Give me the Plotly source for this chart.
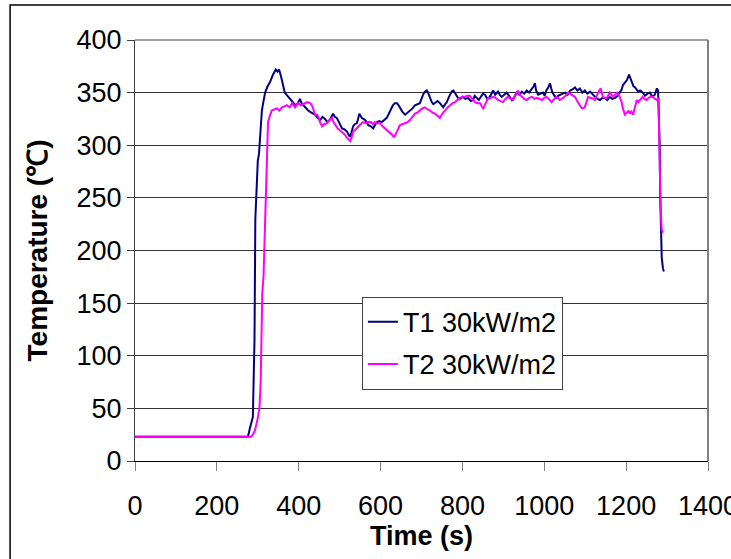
import plotly.graph_objects as go

# Thermocouple T1 under 30 kW/m2 exposure: time (s) and temperature (°C)
t1_time = [0, 276, 280, 285, 288, 290, 292, 294, 297, 300, 303, 306, 310, 314, 318, 324, 330, 337, 344, 348,
           352, 357, 361, 366, 370, 374, 380, 386, 392, 398, 403, 407, 411, 417, 423, 431, 440, 446, 452, 458,
           464, 470, 476, 484, 488, 493, 500, 506, 512, 518, 522, 525, 529, 533, 537, 542, 545, 548, 551, 554,
           558, 562, 566, 570, 576, 582, 586, 591, 597, 603, 609, 615, 619, 623, 627, 630, 635, 640, 644, 647,
           653, 660, 666, 672, 678, 684, 690, 696, 700, 705, 709, 713, 716, 720, 725, 729, 733, 739, 745, 749,
           753, 758, 762, 767, 771, 774, 778, 782, 786, 789, 795, 801, 807, 814, 820, 826, 830, 835, 840, 845,
           850, 855, 861, 867, 871, 875, 880, 887, 891, 896, 902, 908, 914, 921, 927, 933, 939, 945, 951, 957,
           963, 970, 974, 977, 980, 985, 991, 997, 1001, 1005, 1010, 1014, 1017, 1020, 1025, 1030, 1034, 1038,
           1045, 1051, 1057, 1063, 1069, 1075, 1081, 1087, 1093, 1099, 1105, 1112, 1118, 1124, 1130, 1136,
           1142, 1148, 1154, 1160, 1166, 1173, 1179, 1185, 1189, 1192, 1197, 1202, 1207, 1211, 1214, 1218,
           1222, 1226, 1229, 1234, 1241, 1246, 1252, 1258, 1264, 1270, 1275, 1278, 1280, 1282, 1283, 1285,
           1287, 1290, 1292]
t1_temp = [23, 23, 30, 39, 42, 80, 115, 230, 262, 285, 292, 310, 333, 342, 350, 356, 360, 367, 372, 370,
           372, 365, 359, 350, 348, 346, 343, 341, 338, 340, 344, 340, 338, 336, 333, 331, 329, 326, 324, 327,
           325, 322, 324, 330, 327, 326, 320, 316, 315, 313, 310, 308, 312, 318, 320, 321, 325, 330, 328, 326,
           325, 324, 322, 319, 318, 316, 319, 322, 323, 322, 324, 326, 329, 332, 336, 338, 340, 340, 338, 336,
           332, 329, 331, 333, 335, 338, 339, 340, 344, 349, 351, 352, 350, 345, 341, 339, 340, 342, 340, 338,
           336, 339, 341, 346, 349, 351, 352, 350, 347, 345, 344, 346, 344, 345, 342, 343, 347, 345, 343, 346,
           349, 348, 344, 346, 349, 352, 348, 351, 348, 346, 348, 350, 347, 343, 346, 350, 348, 351, 349, 352,
           350, 354, 356, 359, 352, 348, 349, 350, 347, 352, 355, 359, 354, 350, 347, 345, 347, 348,
           349, 350, 348, 352, 353, 355, 352, 354, 350, 352, 349, 351, 348, 346, 344, 343,
           345, 345, 343, 346, 344, 345, 347, 350, 353, 357, 359, 362, 367, 363, 359, 356,
           355, 353, 351, 352, 350, 347, 349, 350, 346, 348, 354, 352, 330, 300, 255, 220,
           193, 183, 180]

# Thermocouple T2 under 30 kW/m2 exposure
t2_time = [0, 284, 288, 293, 298, 304, 307, 309, 311, 314, 317, 320, 323, 325, 328, 334, 340, 347, 353, 359,
           365, 371, 378, 384, 391, 398, 405, 411, 415, 421, 428, 432, 435, 440, 445, 449, 452, 457, 462, 469,
           475, 481, 485, 489, 495, 501, 507, 513, 518, 523, 526, 529, 533, 539, 545, 551, 557, 563, 570, 576,
           581, 586, 592, 599, 605, 611, 617, 623, 628, 632, 635, 640, 647, 653, 660, 666, 672, 678, 684, 690,
           696, 702, 709, 715, 721, 727, 733, 739, 745, 751, 757, 764, 770, 776, 782, 788, 794, 800, 806, 812,
           818, 824, 831, 837, 843, 847, 851, 857, 863, 869, 875, 881, 887, 893, 899, 905, 911, 918, 924, 930,
           936, 940, 945, 951, 957, 963, 970, 976, 982, 988, 994, 1000, 1005, 1011, 1018, 1024, 1030, 1034,
           1038, 1046, 1052, 1058, 1063, 1067, 1071, 1075, 1079, 1083, 1088, 1092, 1099, 1103, 1107, 1112,
           1116, 1120, 1124, 1128, 1131, 1134, 1138, 1141, 1143, 1148, 1153, 1157, 1160, 1164, 1168, 1173,
           1178, 1182, 1185, 1189, 1192, 1197, 1202, 1206, 1209, 1213, 1217, 1221, 1226, 1230, 1234, 1240,
           1245, 1250, 1255, 1260, 1266, 1270, 1275, 1279, 1281, 1283, 1285, 1287, 1290]
t2_temp = [23, 23, 25, 29, 37, 50, 74, 108, 160, 175, 210, 255, 295, 322, 326, 333, 334, 335, 333, 336,
           337, 338, 336, 340, 336, 340, 338, 339, 340, 341, 340, 338, 335, 329, 329, 326, 322, 318, 320, 321,
           324, 326, 322, 319, 316, 314, 312, 310, 307, 305, 304, 307, 313, 315, 318, 320, 322, 321, 322, 322,
           320, 322, 321, 321, 318, 316, 314, 312, 310, 308, 309, 313, 319, 320, 321, 322, 324, 327, 330, 331,
           333, 335, 336, 334, 333, 331, 330, 328, 326, 330, 333, 336, 338, 340, 341, 343, 345, 346, 346, 347,
           347, 344, 341, 340, 340, 337, 335, 340, 345, 345, 346, 345, 343, 342, 341, 344, 346, 344, 343, 348,
           352, 348, 346, 344, 343, 345, 346, 344, 345, 344, 343, 345, 346, 344, 341, 344, 346, 345,
           343, 345, 347, 350, 349, 348, 347, 346, 343, 340, 337, 335, 336, 341, 346, 345,
           345, 344, 343, 347, 350, 352, 354, 350, 346, 345, 345, 348, 350, 348, 346, 348,
           350, 348, 345, 341, 335, 329, 331, 333, 330, 332, 329, 335, 343, 341, 343, 346,
           344, 343, 345, 346, 346, 344, 343, 345, 300, 255, 232, 220, 217]

series_names = ["T1 30kW/m2", "T2 30kW/m2"]
series_colors = ["#000080", "#FF00FF"]

x_ticks = [0, 200, 400, 600, 800, 1000, 1200, 1400]
y_ticks = [0, 50, 100, 150, 200, 250, 300, 350, 400]

FONT = "Liberation Sans, Arial, sans-serif"

fig = go.Figure()
for name, color, xs, ys in [
    (series_names[0], series_colors[0], t1_time, t1_temp),
    (series_names[1], series_colors[1], t2_time, t2_temp),
]:
    fig.add_trace(go.Scatter(
        x=xs, y=ys, mode="lines", name=name, legendgroup=name,
        line=dict(color=color, width=2),
    ))

fig.update_layout(
    width=731, height=559,
    margin=dict(l=135, r=23, t=40, b=98, autoexpand=False),
    paper_bgcolor="white", plot_bgcolor="white",
    font=dict(family=FONT, size=27, color="black"),
    showlegend=True,
    legend=dict(
        x=0.396, y=0.39, xanchor="left", yanchor="top",
        bgcolor="white", bordercolor="#404040", borderwidth=1,
        font=dict(family=FONT, size=27, color="black"),
        tracegroupgap=4,
    ),
    xaxis=dict(
        range=[0, 1400], tickvals=x_ticks, ticktext=[str(v) for v in x_ticks],
        showgrid=False, zeroline=False, automargin=False,
        ticks="outside", ticklen=9, tickcolor="#808080", tickwidth=1,
        ticklabelstandoff=12, ticklabeloverflow="allow",
        showline=True, linecolor="black", linewidth=1,
        title=dict(text="<b>Time (s)</b>", standoff=2,
                   font=dict(family=FONT, size=27, color="black")),
        tickfont=dict(family=FONT, size=27, color="black"),
    ),
    yaxis=dict(
        range=[0, 400], tickvals=y_ticks, ticktext=[str(v) for v in y_ticks],
        showgrid=True, gridcolor="#333333", gridwidth=1,
        zeroline=False, automargin=False,
        ticks="outside", ticklen=7, tickcolor="#404040", tickwidth=1,
        showline=True, linecolor="#404040", linewidth=1,
        title=dict(text="<b>Temperature (℃)</b>", standoff=20,
                   font=dict(family=FONT, size=28, color="black")),
        tickfont=dict(family=FONT, size=27, color="black"),
    ),
    shapes=[
        # plot-area frame (top and right edges in grey)
        dict(type="line", xref="paper", yref="paper", x0=0, x1=1, y0=1, y1=1,
             line=dict(color="#808080", width=1.5)),
        dict(type="line", xref="paper", yref="paper", x0=1, x1=1, y0=0, y1=1,
             line=dict(color="#808080", width=2)),
        # outer chart border
        dict(type="rect", xref="paper", yref="paper",
             x0=-0.218, x1=1.09, y0=-0.27, y1=1.083,
             line=dict(color="black", width=1.5), fillcolor="rgba(0,0,0,0)", layer="below"),
    ],
)

fig.write_html("out.html")
